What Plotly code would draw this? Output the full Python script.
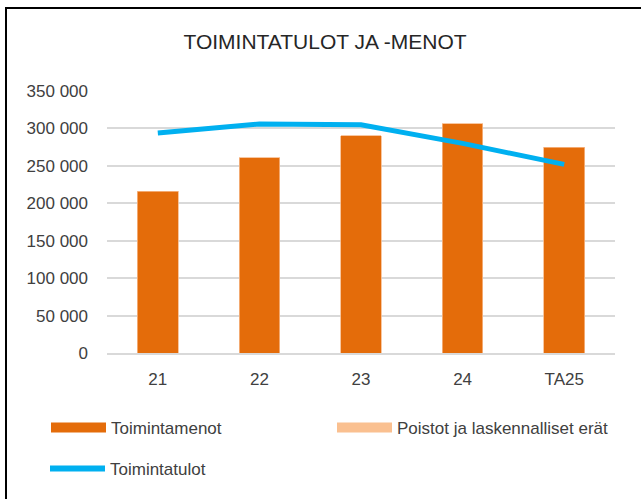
import plotly.graph_objects as go

categories = ["21", "22", "23", "24", "TA25"]
toimintamenot = [216000, 261000, 290000, 306000, 275000]
poistot = [0, 0, 0, 0, 0]
toimintatulot = [294000, 306000, 305000, 280000, 252000]
y_ticks = [0, 50000, 100000, 150000, 200000, 250000, 300000, 350000]

FONT = "Liberation Sans, Arial, sans-serif"
C_MENOT = "#E46C0A"
C_POISTOT = "#FAC090"
C_TULOT = "#00B0F0"

fig = go.Figure()
fig.add_trace(go.Bar(x=categories, y=toimintamenot, name="Toimintamenot",
                     marker=dict(color=C_MENOT, line=dict(color="#F6B98A", width=0.8)),
                     width=0.4, showlegend=False))
fig.add_trace(go.Bar(x=categories, y=poistot, name="Poistot ja laskennalliset erät",
                     marker=dict(color=C_POISTOT, line=dict(width=0)),
                     width=0.4, showlegend=False))
fig.add_trace(go.Scatter(x=categories, y=toimintatulot, name="Toimintatulot", mode="lines",
                         line=dict(color=C_TULOT, width=5), showlegend=False))

# legend proxies
fig.add_trace(go.Scatter(x=[None], y=[None], mode="lines", name="Toimintamenot",
                         line=dict(color=C_MENOT, width=10), legend="legend"))
fig.add_trace(go.Scatter(x=[None], y=[None], mode="lines", name="Poistot ja laskennalliset erät",
                         line=dict(color=C_POISTOT, width=10), legend="legend"))
fig.add_trace(go.Scatter(x=[None], y=[None], mode="lines", name="Toimintatulot",
                         line=dict(color=C_TULOT, width=6), legend="legend2"))

L, R, T, B = 107, 26, 91, 146
W, H = 641, 499
pw, ph = W - L - R, H - T - B

def px_x(x):
    return (x - L) / pw

def px_y(y):
    return (H - B - y) / ph

legend_common = dict(orientation="h", xanchor="left", yanchor="middle",
                     entrywidth=216, entrywidthmode="pixels", itemwidth=55,
                     traceorder="normal", bgcolor="rgba(0,0,0,0)",
                     font=dict(family=FONT, size=17, color="#404040"))

fig.update_layout(
    width=W, height=H,
    margin=dict(l=L, r=R, t=T, b=B, autoexpand=False),
    paper_bgcolor="white", plot_bgcolor="white",
    barmode="stack",
    separators=", ",
    font=dict(family=FONT, size=17, color="#404040"),
    title=dict(text="TOIMINTATULOT JA -MENOT", x=325 / W, xanchor="center",
               y=1 - 42 / H, yanchor="middle",
               font=dict(family=FONT, size=21, color="#262626")),
    xaxis=dict(showgrid=False, showline=True, linecolor="#D9D9D9", linewidth=1.5,
               ticks="", ticklabelstandoff=10, tickfont=dict(size=17, color="#404040")),
    yaxis=dict(range=[0, 350000], tickvals=y_ticks, tickformat=",d",
               showgrid=True, gridcolor="#D9D9D9", gridwidth=1.5,
               zeroline=False, ticks="", ticklabelstandoff=18,
               tickfont=dict(size=17, color="#404040")),
    legend=dict(x=px_x(46), y=px_y(428), **legend_common),
    legend2=dict(x=px_x(45), y=px_y(469), **legend_common),
    showlegend=True,
)

fig.add_shape(type="rect", xref="paper", yref="paper",
              x0=px_x(6), x1=px_x(660), y0=px_y(520), y1=px_y(8),
              line=dict(color="black", width=2), fillcolor="rgba(0,0,0,0)", layer="above")

fig.write_html("out.html", config={"displayModeBar": False},
               post_script="document.body.style.margin='0px';")
